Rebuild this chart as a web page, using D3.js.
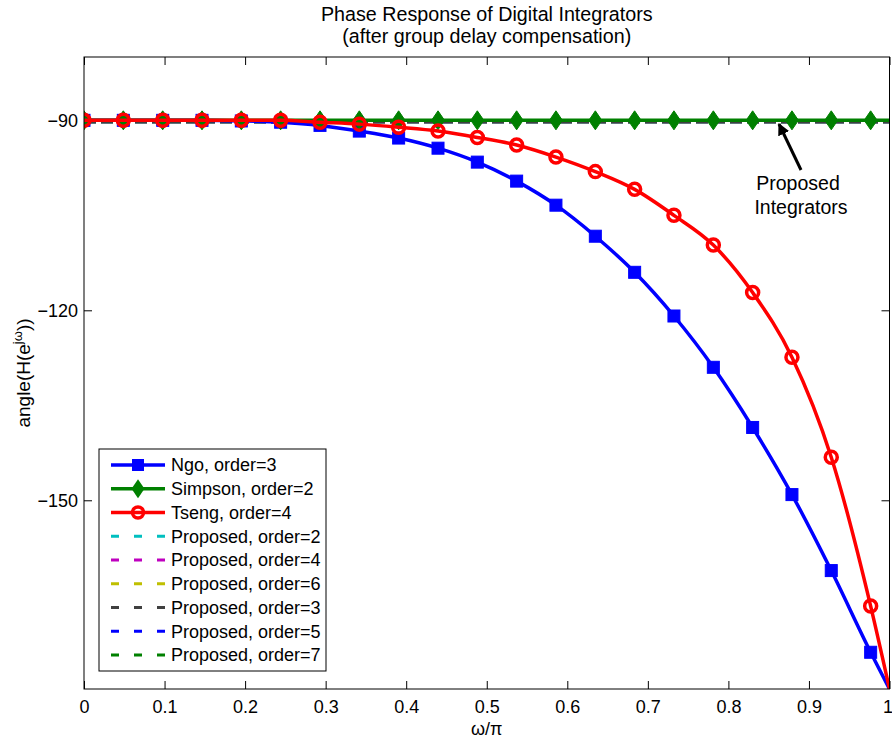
<!DOCTYPE html>
<html>
<head>
<meta charset="utf-8">
<script src="https://cdn.jsdelivr.net/npm/d3@7"></script>
<style>
  body { margin: 0; background: #fff; }
  text { font-family: "Liberation Sans", Arial, Helvetica, sans-serif; fill: #000; }
</style>
</head>
<body>
<svg id="chart" width="892" height="740"></svg>
<script>
// ── Data ──────────────────────────────────────────────────────────────────────
// normalised frequency ω/π at the marker positions, last point is ω/π = 1
const freq = [0, 0.0488, 0.0977, 0.1465, 0.1953, 0.2441, 0.2930, 0.3418, 0.3906, 0.4395,
              0.4883, 0.5371, 0.5859, 0.6348, 0.6836, 0.7324, 0.7813, 0.8301, 0.8789,
              0.9277, 0.9766, 1];
const ngoPhase = [-90, -90, -90, -90, -90.1, -90.3, -90.8, -91.7, -92.8, -94.4,
                  -96.6, -99.6, -103.4, -108.3, -114.0, -120.9, -129.0, -138.5, -149.1,
                  -161.1, -174.0, -179.8];
const simpsonPhase = [-90, -90, -90, -90, -90, -90, -90, -90, -90, -90,
                      -90, -90, -90, -90, -90, -90, -90, -90, -90,
                      -90, -90, -90];
const tsengPhase = [-90, -90, -90, -90, -90, -90, -90.3, -90.6, -91.1, -91.7,
                    -92.7, -93.9, -95.8, -98.1, -100.9, -105.0, -109.7, -117.2, -127.4,
                    -143.2, -166.7, -179.8];
const proposedFreq  = [0, 1];
const proposedPhase = [-90, -90];
const proposedOrders = [2, 4, 6, 3, 5, 7];
const proposedColors = ['#00bfbf', '#bf00bf', '#bfbf00', '#404040', '#0000ff', '#008000'];
// drawing order of the dashed lines (index into the arrays above)
const proposedDrawOrder = [0, 1, 2, 4, 5, 3];

const xTicks = [0, 0.1, 0.2, 0.3, 0.4, 0.5, 0.6, 0.7, 0.8, 0.9, 1];
const xTickLabels = ['0', '0.1', '0.2', '0.3', '0.4', '0.5', '0.6', '0.7', '0.8', '0.9', '1'];
const yTicks = [-90, -120, -150];

// ── Layout ────────────────────────────────────────────────────────────────────
const L = 84, R = 889.5, T = 57, B = 689;
const FS = 19;   // main font size
const svg = d3.select('#chart');
const x = d3.scaleLinear([0, 1], [L, R]);
const y = d3.scaleLinear([-179.8, -80], [B, T]);

svg.append('clipPath').attr('id', 'clip')
  .append('rect').attr('x', L).attr('y', T).attr('width', R - L).attr('height', B - T);

// ── Axes (MATLAB style: ticks inside, box) ────────────────────────────────────
const fmtX = (d, i) => xTickLabels[i];
const minus = d => String(d).replace('-', '\u2212');

const gx = svg.append('g').attr('transform', `translate(0,${B})`)
  .call(d3.axisBottom(x).tickValues(xTicks).tickFormat(fmtX).tickSize(-8).tickPadding(11));
svg.append('g').attr('transform', `translate(0,${T})`)
  .call(d3.axisTop(x).tickValues(xTicks).tickFormat('').tickSize(-8));
const gy = svg.append('g').attr('transform', `translate(${L},0)`)
  .call(d3.axisLeft(y).tickValues(yTicks).tickFormat(minus).tickSize(-8).tickPadding(6));
svg.append('g').attr('transform', `translate(${R},0)`)
  .call(d3.axisRight(y).tickValues(yTicks).tickFormat('').tickSize(-8));

svg.selectAll('.domain').remove();
svg.selectAll('.tick line').attr('stroke', '#000').attr('stroke-width', 1);
svg.selectAll('.tick text').attr('font-size', 18).attr('fill', '#000')
  .attr('font-family', '"Liberation Sans", Arial, sans-serif');
// keep the last x label inside the picture
gx.selectAll('.tick text').filter((d, i) => i === xTicks.length - 1).attr('dx', -2);

// ── Lines ─────────────────────────────────────────────────────────────────────
const plot = svg.append('g').attr('clip-path', 'url(#clip)');
const line = d3.line().x(d => x(d[0])).y(d => y(d[1])).curve(d3.curveMonotoneX);
const zip = (xs, ys) => xs.map((v, i) => [v, ys[i]]);

// proposed integrators (dashed, sit just under the Simpson line)
proposedDrawOrder.forEach(k => {
  plot.append('path')
    .datum(zip(proposedFreq, proposedPhase))
    .attr('d', line)
    .attr('transform', 'translate(0,1.2)')
    .attr('fill', 'none')
    .attr('stroke', proposedColors[k])
    .attr('stroke-width', 3.2)
    .attr('stroke-dasharray', '12,5');
});

const markerPts = (ys) => zip(freq, ys).slice(0, freq.length - 1);

// Ngo
plot.append('path').datum(zip(freq, ngoPhase)).attr('d', line)
  .attr('fill', 'none').attr('stroke', '#0000ff').attr('stroke-width', 3.5);
plot.selectAll('.sq').data(markerPts(ngoPhase)).join('rect')
  .attr('x', d => x(d[0]) - 6).attr('y', d => y(d[1]) - 6)
  .attr('width', 12).attr('height', 12)
  .attr('fill', '#0000ff').attr('stroke', '#0000ff').attr('stroke-width', 1);

// Simpson
const diamond = (cx, cy) => `M${cx},${cy - 9.5}L${cx + 6.5},${cy}L${cx},${cy + 9.5}L${cx - 6.5},${cy}Z`;
plot.append('path').datum(zip(freq, simpsonPhase)).attr('d', line)
  .attr('fill', 'none').attr('stroke', '#008000').attr('stroke-width', 3.5);
plot.selectAll('.dm').data(markerPts(simpsonPhase)).join('path')
  .attr('d', d => diamond(x(d[0]), y(d[1])))
  .attr('fill', '#008000').attr('stroke', '#008000').attr('stroke-width', 1);

// Tseng
plot.append('path').datum(zip(freq, tsengPhase)).attr('d', line)
  .attr('fill', 'none').attr('stroke', '#ff0000').attr('stroke-width', 3.5);
plot.selectAll('.ci').data(markerPts(tsengPhase)).join('circle')
  .attr('cx', d => x(d[0])).attr('cy', d => y(d[1])).attr('r', 6)
  .attr('fill', 'none').attr('stroke', '#ff0000').attr('stroke-width', 3.5);

// box
svg.append('rect').attr('x', L).attr('y', T).attr('width', R - L).attr('height', B - T)
  .attr('fill', 'none').attr('stroke', '#000').attr('stroke-width', 1);

// ── Annotation ────────────────────────────────────────────────────────────────
svg.append('defs').append('marker')
  .attr('id', 'arrow').attr('viewBox', '0 0 10 10').attr('refX', 9).attr('refY', 5)
  .attr('markerWidth', 4).attr('markerHeight', 4).attr('orient', 'auto')
  .append('path').attr('d', 'M0,0L10,5L0,10Z').attr('fill', '#000');
svg.append('line').attr('x1', 801).attr('y1', 170).attr('x2', 779).attr('y2', 124)
  .attr('stroke', '#000').attr('stroke-width', 3).attr('marker-end', 'url(#arrow)');
svg.append('text').attr('x', 798).attr('y', 190).attr('text-anchor', 'middle')
  .attr('font-size', FS + 0.5).text('Proposed');
svg.append('text').attr('x', 801).attr('y', 214).attr('text-anchor', 'middle')
  .attr('font-size', FS + 0.5).text('Integrators');

// ── Titles ────────────────────────────────────────────────────────────────────
const cx = (L + R) / 2;
svg.append('text').attr('x', cx).attr('y', 21).attr('text-anchor', 'middle')
  .attr('font-size', FS + 0.7).text('Phase Response of Digital Integrators');
svg.append('text').attr('x', cx).attr('y', 43).attr('text-anchor', 'middle')
  .attr('font-size', FS + 0.7).text('(after group delay compensation)');

svg.append('text').attr('x', cx).attr('y', 735).attr('text-anchor', 'middle')
  .attr('font-size', 18).text('\u03c9/\u03c0');

const yl = svg.append('text')
  .attr('transform', `translate(30,${(T + B) / 2}) rotate(-90)`)
  .attr('text-anchor', 'middle').attr('font-size', FS);
yl.append('tspan').text('angle(H(e');
yl.append('tspan').attr('dy', -8).attr('font-size', 13).text('j\u03c9');
yl.append('tspan').attr('dy', 8).text('))');

// ── Legend ────────────────────────────────────────────────────────────────────
const legendNames = ['Ngo, order=3', 'Simpson, order=2', 'Tseng, order=4']
  .concat(proposedOrders.map(o => `Proposed, order=${o}`));
const legendColors = ['#0000ff', '#008000', '#ff0000'].concat(proposedColors);
const legendMarks = ['square', 'diamond', 'circle', null, null, null, null, null, null];

const lg = svg.append('g');
lg.append('rect').attr('x', 99).attr('y', 449).attr('width', 227).attr('height', 222)
  .attr('fill', '#fff').attr('stroke', '#000').attr('stroke-width', 1);
legendNames.forEach((name, i) => {
  const ly = 465 + i * 23.75;
  const c = legendColors[i];
  const dashed = legendMarks[i] === null;
  lg.append('line').attr('x1', 111).attr('x2', 165).attr('y1', ly).attr('y2', ly)
    .attr('stroke', c).attr('stroke-width', dashed ? 3.2 : 3.5)
    .attr('stroke-dasharray', dashed ? '8,15' : null);
  if (legendMarks[i] === 'square')
    lg.append('rect').attr('x', 132).attr('y', ly - 6).attr('width', 12).attr('height', 12).attr('fill', c);
  if (legendMarks[i] === 'diamond')
    lg.append('path').attr('d', diamond(138, ly)).attr('fill', c);
  if (legendMarks[i] === 'circle')
    lg.append('circle').attr('cx', 138).attr('cy', ly).attr('r', 5.5)
      .attr('fill', 'none').attr('stroke', c).attr('stroke-width', 3.5);
  lg.append('text').attr('x', 171).attr('y', ly).attr('dy', '0.36em')
    .attr('font-size', 18).text(name);
});
</script>
</body>
</html>
